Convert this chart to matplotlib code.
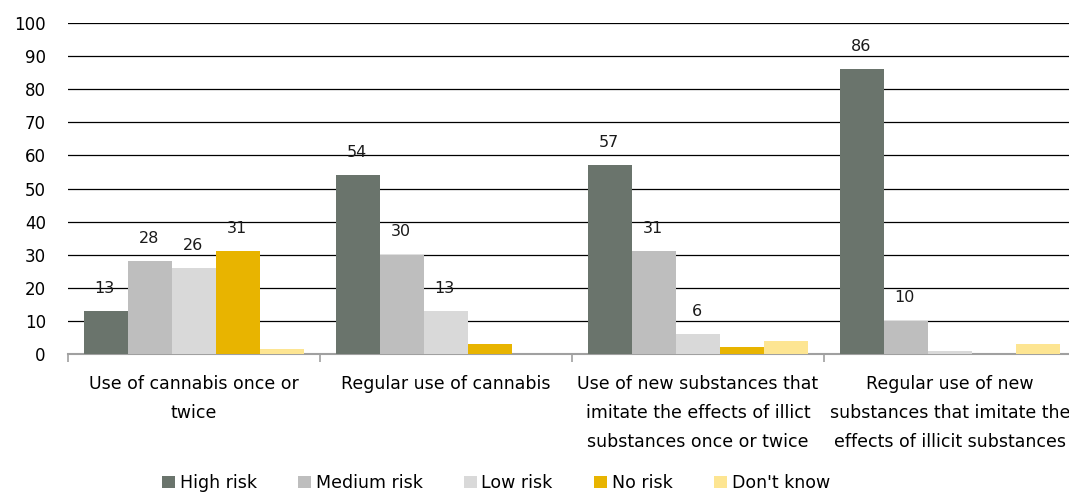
import matplotlib
matplotlib.use('Agg')
import matplotlib.pyplot as plt
import numpy as np

categories = ['Use of cannabis once or\ntwice',
              'Regular use of cannabis',
              'Use of new substances that\nimitate the effects of illict\nsubstances once or twice',
              'Regular use of new\nsubstances that imitate the\neffects of illicit substances']
series = ['High risk', 'Medium risk', 'Low risk', 'No risk', "Don't know"]
high_risk = [13, 54, 57, 86]
medium_risk = [28, 30, 31, 10]
low_risk = [26, 13, 6, 1]
no_risk = [31, 3, 2, 0]
dont_know = [1.5, 0, 4, 3]
yticks = list(range(0, 101, 10))

colors = ['#6a746c', '#bebebe', '#d9d9d9', '#e8b400', '#fde592']
values = [high_risk, medium_risk, low_risk, no_risk, dont_know]

plt.rcParams['font.family'] = 'DejaVu Sans'

fig = plt.figure(figsize=(10.69, 4.92), dpi=100)
ax = fig.add_axes([68/1069, 138/492, 1008/1069, 331/492])

x = np.arange(len(categories))
w = 44/252
for i, (name, vals, c) in enumerate(zip(series, values, colors)):
    bars = ax.bar(x + (i - 2) * w, vals, width=w, color=c, label=name, zorder=3)
    for b, v in zip(bars, vals):
        if v >= 5:
            ax.annotate('%d' % v, (b.get_x() + b.get_width()/2, v),
                        xytext=(-1, 16.5), textcoords='offset points',
                        ha='center', va='center', fontsize=11.5, color='#1a1a1a')

ax.set_xlim(-0.5, 3.5)
ax.set_ylim(0, 100)
ax.set_yticks(yticks)
ax.set_yticklabels([str(t) for t in yticks], fontsize=12)
ax.tick_params(axis='y', length=0, pad=16)
ax.grid(axis='y', color='black', linewidth=0.9, zorder=0)
ax.set_axisbelow(True)

ax.set_xticks(x)
ax.set_xticklabels(categories, fontsize=12.5, linespacing=1.78, va='top')
ax.tick_params(axis='x', which='major', length=0, pad=15)
ax.set_xticks(np.arange(-0.5, 4, 1), minor=True)
ax.tick_params(axis='x', which='minor', length=6, color='#a0a0a0', width=1.2)

for s in ['top', 'right', 'left']:
    ax.spines[s].set_visible(False)
ax.spines['bottom'].set_color('#a0a0a0')
ax.spines['bottom'].set_linewidth(1.5)

fig.legend(loc='center', bbox_to_anchor=(496/1069, 1 - 483/492), ncol=5,
           frameon=False, fontsize=12.5, handlelength=0.75, handleheight=0.75,
           handletextpad=0.25, columnspacing=2.4)

fig.savefig('out.png', dpi=100)
